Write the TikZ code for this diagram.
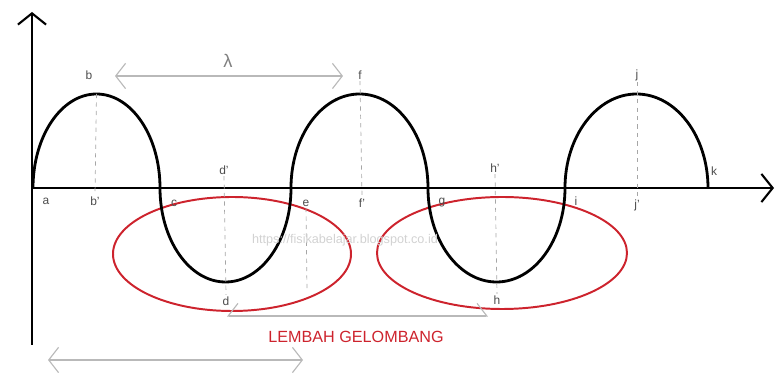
\documentclass[tikz,border=0pt]{standalone}
\usepackage{fontspec}
\setmainfont{Liberation Sans}
\usepackage{tikz}
\usetikzlibrary{arrows.meta}
\definecolor{lembahred}{RGB}{205,35,45}

\begin{document}
\begin{tikzpicture}[
    x=0.025cm, y=0.025cm,
    axis/.style={line width=1.5pt, -{Straight Barb[length=8pt, width=20pt]}},
    wave/.style={line width=2pt},
    guide/.style={gray!70, dashed, line width=0.5pt},
    dim/.style={gray!55, line width=0.8pt, {Straight Barb[length=7pt, width=18pt]}-{Straight Barb[length=7pt, width=18pt]}},
    dimhalf/.style={gray!55, line width=0.8pt, {Straight Barb[right, length=7pt, width=18pt]}-{Straight Barb[left, length=7pt, width=18pt]}},
    lbl/.style={font=\fontsize{8.5}{10}\selectfont, text=black!70, inner sep=1pt},
    lembah/.style={draw=lembahred, line width=1.4pt}
]
    \useasboundingbox (0,0) rectangle (777,381);

    % sumbu
    \coordinate (o) at (32,193);
    \coordinate (ytop) at (32,369);
    \coordinate (ybot) at (32,36);
    \coordinate (xend) at (774,193);
    \draw[axis] (ybot) -- (ytop);
    \draw[axis] (o) -- (xend);

    % titik gelombang
    \coordinate (a) at (33,193);
    \coordinate (b) at (96.5,287);
    \coordinate (d) at (225.5,99);
    \coordinate (f) at (359.5,287);
    \coordinate (h) at (496.5,99);
    \coordinate (j) at (636.5,287);

    % lembah (elips merah)
    \draw[lembah] (232,127) ellipse[x radius=119, y radius=57];
    \draw[lembah] (502,128) ellipse[x radius=125, y radius=56];

    % gelombang
    \draw[wave] (a) arc[start angle=180, end angle=0, x radius=63.5, y radius=94]
        arc[start angle=180, end angle=360, x radius=65.5, y radius=94]
        arc[start angle=180, end angle=0, x radius=68.5, y radius=94]
        arc[start angle=180, end angle=360, x radius=68.5, y radius=94]
        arc[start angle=180, end angle=0, x radius=71.5, y radius=94];

    % label titik
    \node[lbl] (la) at (46,180) {a};
    \node[lbl] (lb) at (89,306) {b};
    \node[lbl] (lbp) at (95,180) {b'};
    \node[lbl] (lc) at (174,178) {c};
    \node[lbl] (ldp) at (224,211) {d'};
    \node[lbl] (ld) at (226,80) {d};
    \node[lbl] (le) at (306,178) {e};
    \node[lbl] (lf) at (360,306) {f};
    \node[lbl] (lfp) at (362,178) {f'};
    \node[lbl] (lg) at (442,178) {g};
    \node[lbl] (lhp) at (495,213) {h'};
    \node[lbl] (lh) at (497,81) {h};
    \node[lbl] (li) at (576,180) {i};
    \node[lbl] (lj) at (637,306) {j};
    \node[lbl] (ljp) at (637,176) {j'};
    \node[lbl] (lk) at (714,210) {k};

    % garis bantu
    \coordinate (eg) at (307,91);
    \draw[guide] (b) -- (lbp.north);
    \draw[guide] (ldp.south) -- (ld.north);
    \draw[guide] (le.south) -- (eg);
    \draw[guide] (lf.south) -- (lfp.north);
    \draw[guide] (lhp.south) -- (lh.north);
    \draw[guide] (lj.south) -- (ljp.north);

    % panjang gelombang
    \coordinate (l1) at (115,305);
    \coordinate (l2) at (343,305);
    \draw[dim] (l1) -- (l2);
    \node[lbl, font=\fontsize{13}{14}\selectfont, text=gray] (lambda) at (228,320) {λ};

    % panah bawah
    \coordinate (m1) at (227,65);
    \coordinate (m2) at (488,65);
    \draw[dimhalf] (m1) -- (m2);
    \coordinate (n1) at (48,21);
    \coordinate (n2) at (303,21);
    \draw[dim] (n1) -- (n2);

    % teks
    \node[font=\fontsize{11.5}{13}\selectfont, text=lembahred] (lembahtext) at (356,44) {LEMBAH GELOMBANG};
    \node[font=\fontsize{9}{10}\selectfont, text=gray!35] (url) at (345,141) {https://fisikabelajar.blogspot.co.id};
\end{tikzpicture}
\end{document}
